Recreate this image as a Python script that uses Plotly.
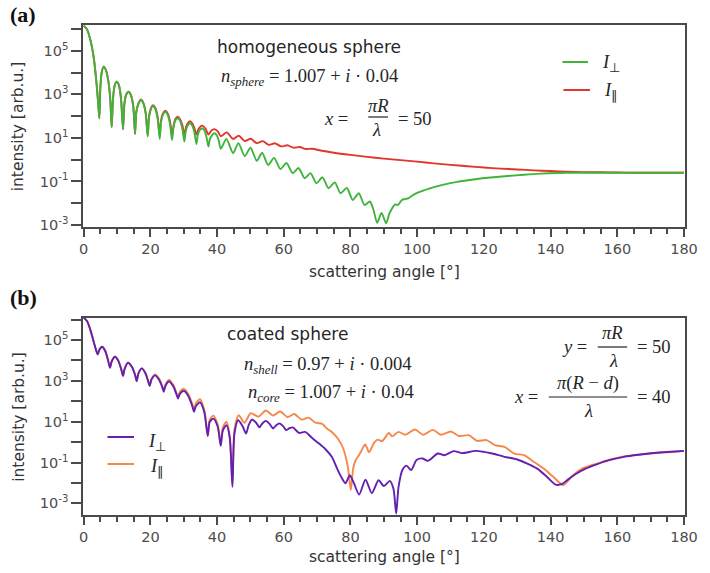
import plotly.graph_objects as go

# ---------------- data (log10 of intensity) ----------------
a_perp_angle = [0, 1.0, 2.0, 3.0, 3.8, 4.3, 4.7, 5.0, 5.4, 6.0, 6.7, 7.4, 8.0, 8.4, 8.8, 9.3, 9.9, 10.6, 11.2, 11.8,
                12.2, 12.8, 13.5, 14.2, 14.9, 15.4, 15.8, 16.5, 17.2, 17.9, 18.6, 19.2, 19.6, 20.2, 20.8, 21.5, 22.2,
                22.8, 23.2, 23.8, 24.5, 25.2, 25.9, 26.5, 26.9, 27.5, 28.2, 28.9, 29.6, 30.2, 30.6, 31.2, 31.9, 32.6,
                33.2, 33.8, 34.2, 34.8, 35.5, 36.2, 36.8, 37.4, 37.8, 38.5, 39.2, 39.9, 40.5, 41.1, 42.8, 44.8, 46.4,
                48.3, 50.0, 51.9, 53.5, 55.3, 57.1, 59.0, 60.8, 62.7, 64.4, 66.3, 68.0, 69.8, 71.6, 73.4, 75.3, 77.0,
                78.9, 80.7, 82.5, 84.2, 85.8, 86.9, 88.0, 89.3, 90.7, 91.6, 92.5, 93.4, 94.2, 95.4, 96.5, 97.3, 98.3,
                100.0, 101.8, 104.5, 107.6, 112.0, 117.4, 122.0, 127.2, 132.0, 137.0, 142.0, 147.0, 155.0, 165.0, 180.0]
a_perp_log10 = [6.15, 5.98, 5.5, 4.7, 3.6, 2.7, 1.9, 3.3, 4.0, 4.27, 4.1, 3.6, 2.7, 1.49, 2.8, 3.4, 3.58, 3.4, 2.8, 1.39,
                2.55, 3.0, 3.12, 2.95, 2.4, 1.18, 2.2, 2.6, 2.74, 2.58, 2.1, 1.06, 1.95, 2.33, 2.46, 2.32, 1.85,
                0.95, 1.7, 2.08, 2.2, 2.06, 1.62, 0.9, 1.45, 1.8, 1.9, 1.78, 1.4, 0.83, 1.3, 1.57, 1.67, 1.56,
                1.25, 0.72, 1.12, 1.35, 1.44, 1.34, 1.05, 0.6, 0.92, 1.13, 1.21, 1.12, 0.88, 0.5, 0.95, 0.3, 0.76,
                0.16, 0.55, -0.05, 0.32, -0.24, 0.08, -0.43, -0.15, -0.62, -0.38, -0.85, -0.62, -1.08, -0.81, -1.31, -1.04, -1.54,
                -1.3, -1.85, -1.54, -2.08, -1.92, -2.3, -2.9, -2.45, -2.92, -2.5, -2.23, -2.05, -2.08, -1.85, -1.8, -1.78, -1.67,
                -1.52, -1.42, -1.28, -1.16, -1.02, -0.9, -0.82, -0.75, -0.69, -0.64, -0.61, -0.6, -0.6, -0.6, -0.6]

a_par_angle = [0, 1.0, 2.0, 3.0, 3.8, 4.3, 4.7, 5.0, 5.4, 6.0, 6.7, 7.4, 8.0, 8.4, 8.8, 9.3, 9.9, 10.6, 11.2, 11.8,
               12.2, 12.8, 13.5, 14.2, 14.9, 15.4, 15.8, 16.5, 17.2, 17.9, 18.6, 19.2, 19.6, 20.2, 20.8, 21.5, 22.2,
               22.8, 23.2, 23.8, 24.5, 25.2, 25.9, 26.5, 27.0, 27.5, 28.2, 28.9, 29.6, 30.2, 30.7, 31.2, 31.9, 32.6,
               33.2, 33.8, 34.4, 35.5, 36.5, 37.4, 38.2, 39.2, 40.2, 41.1, 42.9, 44.8, 46.5, 48.3, 50.1, 51.9, 53.7,
               55.5, 57.4, 59.2, 61.1, 62.9, 64.8, 66.6, 68.5, 71, 75, 80, 85, 90, 95, 100, 105, 110, 115, 120, 125,
               130, 135, 140, 145, 150, 155, 160, 165, 170, 180]
a_par_log10 = [6.15, 5.98, 5.5, 4.7, 3.6, 2.7, 1.9, 3.3, 4.0, 4.27, 4.1, 3.6, 2.7, 1.49, 2.8, 3.4, 3.58, 3.4, 2.8, 1.39,
               2.55, 3.0, 3.12, 2.95, 2.4, 1.18, 2.2, 2.6, 2.76, 2.6, 2.15, 1.1, 1.98, 2.38, 2.5, 2.37, 1.95,
               1.1, 1.8, 2.13, 2.25, 2.12, 1.75, 1.1, 1.6, 1.87, 1.97, 1.86, 1.58, 1.15, 1.5, 1.67, 1.76, 1.66,
               1.45, 1.15, 1.4, 1.56, 1.43, 1.15, 1.32, 1.4, 1.3, 1.08, 1.25, 0.95, 1.1, 0.85, 0.96, 0.76, 0.85,
               0.68, 0.75, 0.61, 0.66, 0.55, 0.58, 0.49, 0.5, 0.42, 0.32, 0.22, 0.13, 0.05, -0.02, -0.09, -0.17, -0.24, -0.3, -0.36, -0.41,
               -0.45, -0.49, -0.52, -0.55, -0.57, -0.58, -0.59, -0.6, -0.6, -0.6]

b_perp_angle = [0, 1.0, 2.0, 3.0, 3.7, 4.2, 4.7, 5.5, 6.5, 7.4, 7.9, 8.4, 9.4, 10.4, 11.3, 11.8, 12.3, 13.3, 14.4, 15.4,
                15.9, 16.4, 17.4, 18.6, 19.3, 19.8, 20.3, 21.4, 22.6, 23.5, 24.0, 24.5, 25.6, 26.9, 27.8, 28.3, 28.8,
                30.0, 31.4, 32.5, 33.1, 33.6, 34.9, 36.2, 37.2, 37.8, 38.9, 40.2, 41.1, 41.7, 42.8, 43.8, 44.6, 45.2,
                46.3, 47.6, 48.7, 49.5, 50.5, 51.7, 52.7, 53.5, 54.6, 55.8, 56.8, 57.7, 58.7, 59.8, 60.7, 61.7, 62.7,
                64.6, 66.4, 68.5, 70.5, 72.5, 74.4, 76.0, 77.2, 78.5, 79.8, 81.0, 82.6, 84.5, 86.4, 88.4, 90.0, 91.8,
                92.9, 93.7, 94.4, 95.6, 96.8, 98.2, 99.8, 101.6, 103.2, 106.2, 108.2, 111.0, 113.5, 117.5, 120.0, 122.5,
                126.2, 130.0, 133.0, 136.0, 138.9, 141.5, 143.3, 145.5, 147.7, 150.5, 153.6, 157.5, 162.0, 166.3, 172.0,
                176.0, 180.0]
b_perp_log10 = [6.1, 5.93, 5.5, 4.92, 4.52, 4.3, 4.52, 4.67, 4.45, 3.95, 3.64, 3.95, 4.18, 3.98, 3.55, 3.25, 3.6, 3.89, 3.7, 3.3,
                2.99, 3.35, 3.61, 3.35, 3.0, 2.76, 3.05, 3.27, 3.05, 2.72, 2.47, 2.75, 2.97, 2.72, 2.35, 2.14, 2.35,
                2.52, 2.25, 1.8, 1.49, 1.75, 1.95, 1.45, 0.3, 1.0, 1.15, 0.75, -0.18, 0.55, 0.83, 0.2, -2.19, 0.4,
                1.07, 0.8, 0.42, 0.85, 1.11, 0.95, 0.72, 0.9, 1.04, 0.88, 0.67, 0.82, 0.92, 0.78, 0.59, 0.68, 0.72,
                0.45, 0.5, 0.2, -0.06, -0.35, -0.72, -1.3, -1.7, -2.02, -1.62, -2.0, -2.57, -1.84, -2.5, -1.87, -2.15, -1.9,
                -2.3, -3.5, -2.2, -1.35, -1.15, -1.37, -0.88, -0.8, -0.92, -0.56, -0.64, -0.44, -0.54, -0.43, -0.48, -0.56,
                -0.72, -0.85, -1.05, -1.3, -1.7, -2.08, -2.06, -1.8, -1.55, -1.3, -1.1, -0.88, -0.72, -0.62, -0.52,
                -0.47, -0.43]

b_par_angle = [0, 1.0, 2.0, 3.0, 3.7, 4.2, 4.7, 5.5, 6.5, 7.4, 7.9, 8.4, 9.4, 10.4, 11.3, 11.8, 12.3, 13.3, 14.4, 15.4,
               15.9, 16.4, 17.4, 18.6, 19.3, 19.8, 20.3, 21.4, 22.6, 23.5, 24.0, 24.5, 25.6, 26.9, 27.8, 28.3, 28.8,
               30.0, 31.4, 32.5, 33.1, 33.6, 34.9, 36.2, 37.2, 37.8, 38.9, 40.2, 41.1, 41.7, 42.8, 43.8, 44.6, 45.2,
               46.5, 48.2, 50.1, 52.4, 54.6, 56.8, 58.9, 61.2, 63.1, 65.4, 67.4, 69.5, 71.5, 73.0, 74.4, 76.3, 77.8,
               79.2, 80.1, 80.8, 81.5, 82.3, 83.2, 84.4, 85.6, 87.0, 88.1, 89.5, 91.5, 92.5, 94.4, 96.4, 99.3, 101.8,
               104.7, 107.1, 110.1, 112.5, 115.5, 117.9, 120.8, 123.3, 126.2, 129.1, 132.0, 135.0, 137.9, 140.8, 143.8,
               146.7, 149.6, 152.5, 155.5, 158.0, 162.0, 166.3, 170.0, 174.0, 177.0, 180.0]
b_par_log10 = [6.1, 5.93, 5.5, 4.92, 4.52, 4.3, 4.52, 4.67, 4.45, 3.95, 3.64, 3.95, 4.18, 3.98, 3.55, 3.25, 3.6, 3.89, 3.7, 3.3,
               2.99, 3.35, 3.61, 3.35, 3.0, 2.76, 3.08, 3.32, 3.12, 2.78, 2.52, 2.82, 3.05, 2.8, 2.42, 2.2, 2.45,
               2.62, 2.35, 1.9, 1.6, 1.88, 2.1, 1.55, 0.32, 1.1, 1.3, 0.85, -0.15, 0.7, 1.0, 0.3, -2.05, 0.6,
               1.32, 0.95, 1.42, 1.25, 1.55, 1.3, 1.5, 1.22, 1.38, 1.1, 1.2, 0.95, 0.9, 0.65, 0.5, 0.15, -0.3,
               -1.2, -2.35, -1.3, -0.9, -0.7, -0.45, -0.12, -0.5, -0.05, 0.12, 0.05, 0.45, 0.28, 0.5, 0.36, 0.62, 0.36,
               0.6, 0.36, 0.52, 0.3, 0.34, 0.06, 0.1, -0.15, -0.23, -0.56, -0.64, -0.97, -1.29, -1.7, -2.1,
               -1.62, -1.29, -1.12, -0.97, -0.85, -0.7, -0.62, -0.53, -0.5, -0.48, -0.43]

x_ticks = [0, 20, 40, 60, 80, 100, 120, 140, 160, 180]
y_tick_exponents = [-3, -2, -1, 0, 1, 2, 3, 4, 5, 6]

GREEN = "#3fb43a"
RED = "#e2352b"
PURPLE = "#6420b0"
ORANGE = "#f5874a"
AXC = "#4a4a4a"
TXT = "#262626"
TICKC = "#4d4d4d"

# --------------- figure geometry helpers (pixel -> paper) ---------------
W, H = 710, 573
ML, MR, MT, MB = 83, 13, 25, 58
PW, PH = W - ML - MR, H - MT - MB


def px(xp):
    return (xp - ML) / PW


def py(yp):
    return (H - MB - yp) / PH


fig = go.Figure()


def line_trace(xs, ys, color, xa, ya):
    return go.Scatter(x=xs, y=[10 ** v for v in ys], mode="lines", xaxis=xa, yaxis=ya,
                      line=dict(color=color, width=1.9, shape="spline", smoothing=0.7),
                      hoverinfo="skip", showlegend=False)


fig.add_trace(line_trace(a_par_angle, a_par_log10, RED, "x", "y"))
fig.add_trace(line_trace(a_perp_angle, a_perp_log10, GREEN, "x", "y"))
fig.add_trace(line_trace(b_par_angle, b_par_log10, ORANGE, "x2", "y2"))
fig.add_trace(line_trace(b_perp_angle, b_perp_log10, PURPLE, "x2", "y2"))

ytickvals = [10.0 ** e for e in y_tick_exponents]
yticktext = [("10<sup>%d</sup>" % e) if e % 2 else "" for e in y_tick_exponents]

xax = dict(range=[-0.2, 180.3], tickvals=x_ticks, ticks="outside", ticklen=8, tickwidth=1.5, tickcolor=AXC,
           minor=dict(dtick=5, tick0=0, ticks="outside", ticklen=5, tickwidth=1.5, tickcolor=AXC),
           showline=True, linecolor=AXC, linewidth=1.5, mirror=True, showgrid=False, zeroline=False,
           tickfont=dict(family="DejaVu Sans", size=14.5, color=TICKC))
yax = dict(type="log", tickvals=ytickvals, ticktext=yticktext, ticks="outside", ticklen=10, tickwidth=1.5,
           tickcolor=AXC, showline=True, linecolor=AXC, linewidth=1.5, mirror=True, showgrid=False,
           zeroline=False, tickfont=dict(family="DejaVu Sans", size=14.5, color=TICKC))

top_a = 1.0
bot_a = py(227)
top_b = py(318)

fig.update_layout(
    width=W, height=H, autosize=False,
    margin=dict(l=ML, r=MR, t=MT, b=MB),
    paper_bgcolor="white", plot_bgcolor="white",
    xaxis=dict(xax, domain=[0, 1], anchor="y"),
    yaxis=dict(yax, domain=[bot_a, top_a], anchor="x", range=[-3.09, 6.18]),
    xaxis2=dict(xax, domain=[0, 1], anchor="y2"),
    yaxis2=dict(yax, domain=[0, top_b], anchor="x2", range=[-3.57, 6.08]),
)

ann = []
shapes = []
SANS = "DejaVu Sans"
SERIF = "Liberation Serif"


def text(xp, yp, s, size=17, family=SANS, color=TXT, angle=0, xanchor="center"):
    ann.append(dict(x=px(xp), y=py(yp), xref="paper", yref="paper", text=s, showarrow=False,
                    font=dict(family=family, size=size, color=color), textangle=angle,
                    xanchor=xanchor, yanchor="middle"))


def hline(x0, x1, yp, color, width=1.2):
    shapes.append(dict(type="line", xref="paper", yref="paper", x0=px(x0), x1=px(x1), y0=py(yp), y1=py(yp),
                       line=dict(color=color, width=width)))


# panel labels
text(22, 15, "<b>(a)</b>", size=22, family=SERIF, color="#111")
text(22, 297, "<b>(b)</b>", size=22, family=SERIF, color="#111")

# axis titles
for yc in [(25 + 227) / 2, (318 + 515) / 2]:
    text(17, yc, "intensity [arb.u.]", size=15.5, angle=-90, color="#333")
text(390, 272, "scattering angle [°]", size=15.5, color="#333")
text(390, 557, "scattering angle [°]", size=15.5, color="#333")

# panel (a) annotation texts
text(314, 47, "homogeneous sphere", size=17)
text(314, 78, "<i>n</i><sub><i>sphere</i></sub> = 1.007 + <i>i</i> · 0.04", size=18.5, family=SERIF)
text(341, 119, "<i>x</i> =", size=18.5, family=SERIF)
text(384, 106, "<i>πR</i>", size=18.5, family=SERIF)
hline(374, 394, 117, "#222")
text(382, 130, "<i>λ</i>", size=18.5, family=SERIF)
text(422, 119, "= 50", size=18.5, family=SERIF)

# legend (a)
hline(572, 598, 62, GREEN, 2)
text(610, 64, "<i>I</i><sub>⊥</sub>", size=18.5, family=SERIF, xanchor="left")
hline(573, 600, 90, RED, 2)
text(612, 92, "<i>I</i><sub>∥</sub>", size=18.5, family=SERIF, xanchor="left")

# panel (b) annotation texts
text(292, 334, "coated sphere", size=17)
text(333, 365, "<i>n</i><sub><i>shell</i></sub> = 0.97 + <i>i</i> · 0.004", size=18.5, family=SERIF)
text(336, 393, "<i>n</i><sub><i>core</i></sub> = 1.007 + <i>i</i> · 0.04", size=18.5, family=SERIF)

text(584, 347, "<i>y</i> =", size=18.5, family=SERIF)
text(623, 333, "<i>πR</i>", size=18.5, family=SERIF)
hline(608, 638, 347, "#222")
text(624, 361, "<i>λ</i>", size=18.5, family=SERIF)
text(665, 347, "= 50", size=18.5, family=SERIF)

text(535, 397, "<i>x</i> =", size=18.5, family=SERIF)
text(598, 383, "<i>π</i>(<i>R</i> − <i>d</i>)", size=18.5, family=SERIF)
hline(558, 638, 397, "#222")
text(599, 411, "<i>λ</i>", size=18.5, family=SERIF)
text(665, 397, "= 40", size=18.5, family=SERIF)

# legend (b)
hline(108, 135, 437, PURPLE, 2)
text(147, 442, "<i>I</i><sub>⊥</sub>", size=18.5, family=SERIF, xanchor="left")
hline(108, 135, 464, ORANGE, 2)
text(149, 467, "<i>I</i><sub>∥</sub>", size=18.5, family=SERIF, xanchor="left")

fig.update_layout(annotations=ann, shapes=shapes)
# remove the browser's default 8px page margin so the figure sits at the window origin
fig.write_html("out.html", config={"displayModeBar": False},
               post_script="document.body.style.margin='0px';")
